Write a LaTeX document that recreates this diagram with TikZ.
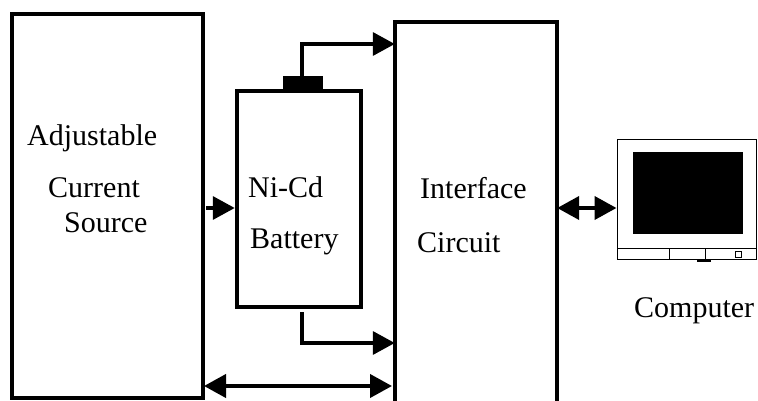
\documentclass[tikz,border=0pt]{standalone}
\usepackage{fontspec}
\setmainfont{Liberation Serif}
\usetikzlibrary{arrows.meta}
\tikzset{
  blockbox/.style={draw, line width=4.5pt, minimum width=#1, inner sep=0pt},
  label/.style={anchor=base west, inner sep=0pt, font=\fontsize{30}{30}\selectfont},
  conn/.style={line width=3.5pt, -{Triangle[length=22pt,width=23pt]}},
  dualconn/.style={line width=4pt, {Triangle[length=22pt,width=23pt]}-{Triangle[length=22pt,width=23pt]}},
  thinline/.style={line width=1pt}
}
\begin{document}
\begin{tikzpicture}[x=1pt, y=-1pt]
\useasboundingbox (0,0) rectangle (758,401);
\node[blockbox=191pt, minimum height=384pt] (source) at (107.5,206) {};
\node[blockbox=124pt, minimum height=216pt] (battery) at (299,199) {};
\node[draw, fill, inner sep=0pt, minimum width=39pt, minimum height=15pt] (terminal) at (302.5,83.5) {};
\node[minimum width=162pt, minimum height=379pt, inner sep=0pt] (interface) at (476,211.5) {};
\draw[line width=4.5pt] (interface.south west) |- (interface.north east) -- (interface.south east);
% monitor
\node[draw, thinline, inner sep=0pt, minimum width=139pt, minimum height=119pt] (monitor) at (686.5,199.5) {};
\node[draw, thinline, fill, inner sep=0pt, minimum width=109pt, minimum height=80pt] (screen) at (687.5,193) {};
\coordinate (barleft) at (617,248);
\coordinate (barright) at (756,248);
\coordinate (divone) at (669,248);
\coordinate (divtwo) at (705,248);
\node[draw, thinline, inner sep=0pt, minimum width=6pt, minimum height=6pt] (button) at (738,254) {};
\node[fill, inner sep=0pt, minimum width=14pt, minimum height=2.5pt] (stand) at (704,261) {};
\draw[thinline] (barleft) -- (barright);
\draw[thinline] (divone) -- (divone |- monitor.south);
\draw[thinline] (divtwo) -- (divtwo |- monitor.south);
% labels
\node[label] (adjustable) at (27,146) {Adjustable};
\node[label] (current) at (48,197) {Current};
\node[label] (sourcetext) at (64,232) {Source};
\node[label] (nicd) at (248,197) {Ni-Cd};
\node[label] (batterytext) at (250,248) {Battery};
\node[label] (interfacetext) at (420,198) {Interface};
\node[label] (circuit) at (417,252) {Circuit};
\node[label] (computer) at (634,317) {Computer};
% connectors
\coordinate (topturn) at (302,44);
\coordinate (lowstart) at (302,312);
\coordinate (lowturn) at (302,343);
\coordinate (sourceout) at (206,208);
\coordinate (busleft) at (204,386);
\coordinate (busright) at (392,386);
\draw[conn] (terminal.north -| topturn) -- (topturn) -- (interface.west |- topturn);
\draw[conn] (lowstart) -- (lowturn) -- (interface.west |- lowturn);
\draw[conn] (sourceout) -- (battery.west |- sourceout);
\draw[dualconn] (busleft) -- (busright);
\draw[dualconn] (interface.east |- sourceout) -- (monitor.west |- sourceout);
\end{tikzpicture}
\end{document}
